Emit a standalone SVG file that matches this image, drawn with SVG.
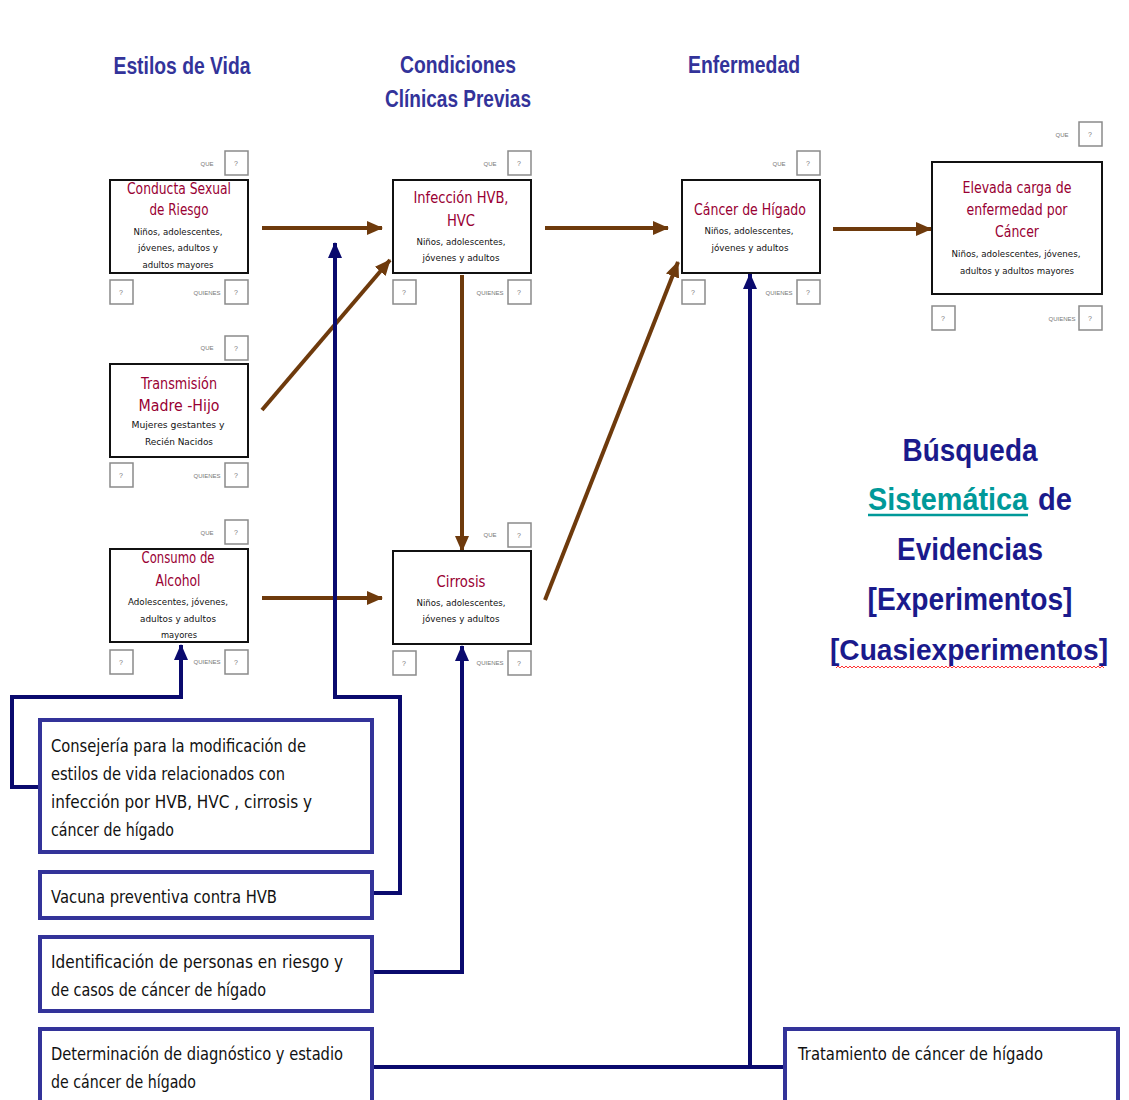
<svg xmlns="http://www.w3.org/2000/svg" width="1129" height="1100" viewBox="0 0 1129 1100">
<defs>
<style>
.hdr{font-family:"Liberation Sans",Arial,sans-serif;font-weight:bold;font-size:24px;fill:#33339a;text-anchor:middle}
.node{fill:#fff;stroke:#111;stroke-width:2}
.ttl{font-family:"DejaVu Sans","Liberation Sans",sans-serif;font-size:15px;fill:#990033;text-anchor:middle}
.sub{font-family:"DejaVu Sans","Liberation Sans",sans-serif;font-size:9.5px;fill:#111;text-anchor:middle}
.sm{fill:#fff;stroke:#8a8a8a;stroke-width:1.5}
.lbl{font-family:"Liberation Sans",Arial,sans-serif;font-size:6px;fill:#777;text-anchor:middle}
.q{font-family:"Liberation Sans",Arial,sans-serif;font-size:7px;fill:#777;text-anchor:middle}
.bbox{fill:#fff;stroke:#333399;stroke-width:4}
.btx{font-family:"DejaVu Sans","Liberation Sans",sans-serif;font-size:17px;fill:#111}
.br{fill:none;stroke:#6e3a0c;stroke-width:4}
.bl{fill:none;stroke:#0a0a6e;stroke-width:4}
.big{font-family:"Liberation Sans",Arial,sans-serif;font-weight:bold;font-size:31px;fill:#1a1a8c;text-anchor:middle}
</style>
<marker id="ab" markerUnits="userSpaceOnUse" markerWidth="16" markerHeight="14" refX="15" refY="7" orient="auto">
<path d="M0,0 L16,7 L0,14 Z" fill="#6e3a0c"/>
</marker>
<marker id="an" markerUnits="userSpaceOnUse" markerWidth="16" markerHeight="14" refX="15" refY="7" orient="auto">
<path d="M0,0 L16,7 L0,14 Z" fill="#0a0a6e"/>
</marker>
<pattern id="wave" patternUnits="userSpaceOnUse" x="836" y="665" width="4" height="4">
<path d="M0,3 L2,1 L4,3" fill="none" stroke="#ff3333" stroke-width="1"/>
</pattern>
</defs>
<rect width="1129" height="1100" fill="#fff"/>

<g id="headers">
<text class="hdr" x="182" y="74" textLength="137" lengthAdjust="spacingAndGlyphs">Estilos de Vida</text>
<text class="hdr" x="458" y="73" textLength="116" lengthAdjust="spacingAndGlyphs">Condiciones</text>
<text class="hdr" x="458" y="107" textLength="146" lengthAdjust="spacingAndGlyphs">Clínicas Previas</text>
<text class="hdr" x="744" y="73" textLength="112" lengthAdjust="spacingAndGlyphs">Enfermedad</text>
</g>

<g id="connectors">
<line class="br" x1="262" y1="228" x2="382" y2="228" marker-end="url(#ab)"/>
<line class="br" x1="262" y1="410" x2="390" y2="260" marker-end="url(#ab)"/>
<line class="br" x1="545" y1="228" x2="668" y2="228" marker-end="url(#ab)"/>
<line class="br" x1="833" y1="229" x2="931" y2="229" marker-end="url(#ab)"/>
<line class="br" x1="462" y1="275" x2="462" y2="551" marker-end="url(#ab)"/>
<line class="br" x1="262" y1="598" x2="382" y2="598" marker-end="url(#ab)"/>
<line class="br" x1="545" y1="600" x2="678" y2="262" marker-end="url(#ab)"/>
<polyline class="bl" points="40,787 12,787 12,697 181,697 181,645" marker-end="url(#an)"/>
<polyline class="bl" points="372,893 400,893 400,697 335,697 335,243" marker-end="url(#an)"/>
<polyline class="bl" points="372,972 462,972 462,646" marker-end="url(#an)"/>
<line class="bl" x1="372" y1="1067" x2="785" y2="1067"/>
<line class="bl" x1="750" y1="1069" x2="750" y2="274" marker-end="url(#an)"/>
</g>

<g id="n-conducta">
<rect class="node" x="110" y="180" width="138" height="93"/>
<rect class="sm" x="225" y="151" width="23" height="24"/><text class="q" x="236" y="166">?</text>
<text class="lbl" x="207" y="166">QUE</text>
<rect class="sm" x="110" y="280" width="23" height="24"/><text class="q" x="121" y="295">?</text>
<rect class="sm" x="225" y="280" width="23" height="24"/><text class="q" x="236" y="295">?</text>
<text class="lbl" x="207" y="295">QUIENES</text>
<text class="ttl" x="179" y="194" textLength="104" lengthAdjust="spacingAndGlyphs">Conducta Sexual</text>
<text class="ttl" x="179" y="215" textLength="59" lengthAdjust="spacingAndGlyphs">de Riesgo</text>
<text class="sub" x="178" y="235" textLength="89" lengthAdjust="spacingAndGlyphs">Niños, adolescentes,</text>
<text class="sub" x="178" y="251" textLength="80" lengthAdjust="spacingAndGlyphs">jóvenes, adultos y</text>
<text class="sub" x="178" y="268" textLength="71" lengthAdjust="spacingAndGlyphs">adultos mayores</text>
</g>

<g id="n-infeccion">
<rect class="node" x="393" y="180" width="138" height="93"/>
<rect class="sm" x="508" y="151" width="23" height="24"/><text class="q" x="519" y="166">?</text>
<text class="lbl" x="490" y="166">QUE</text>
<rect class="sm" x="393" y="280" width="23" height="24"/><text class="q" x="404" y="295">?</text>
<rect class="sm" x="508" y="280" width="23" height="24"/><text class="q" x="519" y="295">?</text>
<text class="lbl" x="490" y="295">QUIENES</text>
<text class="ttl" x="461" y="203" textLength="95" lengthAdjust="spacingAndGlyphs">Infección HVB,</text>
<text class="ttl" x="461" y="226" textLength="28" lengthAdjust="spacingAndGlyphs">HVC</text>
<text class="sub" x="461" y="245" textLength="89" lengthAdjust="spacingAndGlyphs">Niños, adolescentes,</text>
<text class="sub" x="461" y="261" textLength="77" lengthAdjust="spacingAndGlyphs">jóvenes y adultos</text>
</g>

<g id="n-cancer">
<rect class="node" x="682" y="180" width="138" height="93"/>
<rect class="sm" x="797" y="151" width="23" height="24"/><text class="q" x="808" y="166">?</text>
<text class="lbl" x="779" y="166">QUE</text>
<rect class="sm" x="682" y="280" width="23" height="24"/><text class="q" x="693" y="295">?</text>
<rect class="sm" x="797" y="280" width="23" height="24"/><text class="q" x="808" y="295">?</text>
<text class="lbl" x="779" y="295">QUIENES</text>
<text class="ttl" x="750" y="215" textLength="112" lengthAdjust="spacingAndGlyphs">Cáncer de Hígado</text>
<text class="sub" x="749" y="234" textLength="89" lengthAdjust="spacingAndGlyphs">Niños, adolescentes,</text>
<text class="sub" x="750" y="251" textLength="77" lengthAdjust="spacingAndGlyphs">jóvenes y adultos</text>
</g>

<g id="n-elevada">
<rect class="node" x="932" y="162" width="170" height="132"/>
<rect class="sm" x="1079" y="122" width="23" height="24"/><text class="q" x="1090" y="137">?</text>
<text class="lbl" x="1062" y="137">QUE</text>
<rect class="sm" x="932" y="306" width="23" height="24"/><text class="q" x="943" y="321">?</text>
<rect class="sm" x="1079" y="306" width="23" height="24"/><text class="q" x="1090" y="321">?</text>
<text class="lbl" x="1062" y="321">QUIENES</text>
<text class="ttl" x="1017" y="193" textLength="109" lengthAdjust="spacingAndGlyphs">Elevada carga de</text>
<text class="ttl" x="1017" y="215" textLength="101" lengthAdjust="spacingAndGlyphs">enfermedad por</text>
<text class="ttl" x="1017" y="237" textLength="44" lengthAdjust="spacingAndGlyphs">Cáncer</text>
<text class="sub" x="1016" y="257" textLength="129" lengthAdjust="spacingAndGlyphs">Niños, adolescentes, jóvenes,</text>
<text class="sub" x="1017" y="274" textLength="114" lengthAdjust="spacingAndGlyphs">adultos y adultos mayores</text>
</g>

<g id="n-transmision">
<rect class="node" x="110" y="364" width="138" height="93"/>
<rect class="sm" x="225" y="336" width="23" height="24"/><text class="q" x="236" y="351">?</text>
<text class="lbl" x="207" y="350">QUE</text>
<rect class="sm" x="110" y="463" width="23" height="24"/><text class="q" x="121" y="478">?</text>
<rect class="sm" x="225" y="463" width="23" height="24"/><text class="q" x="236" y="478">?</text>
<text class="lbl" x="207" y="478">QUIENES</text>
<text class="ttl" x="179" y="389" textLength="76" lengthAdjust="spacingAndGlyphs">Transmisión</text>
<text class="ttl" x="179" y="411" textLength="81" lengthAdjust="spacingAndGlyphs">Madre -Hijo</text>
<text class="sub" x="178" y="428" textLength="93" lengthAdjust="spacingAndGlyphs">Mujeres gestantes y</text>
<text class="sub" x="179" y="445" textLength="68" lengthAdjust="spacingAndGlyphs">Recién Nacidos</text>
</g>

<g id="n-alcohol">
<rect class="node" x="110" y="549" width="138" height="93"/>
<rect class="sm" x="225" y="520" width="23" height="24"/><text class="q" x="236" y="535">?</text>
<text class="lbl" x="207" y="535">QUE</text>
<rect class="sm" x="110" y="650" width="23" height="24"/><text class="q" x="121" y="665">?</text>
<rect class="sm" x="225" y="650" width="23" height="24"/><text class="q" x="236" y="665">?</text>
<text class="lbl" x="207" y="664">QUIENES</text>
<text class="ttl" x="178" y="563" textLength="73" lengthAdjust="spacingAndGlyphs">Consumo de</text>
<text class="ttl" x="178" y="586" textLength="45" lengthAdjust="spacingAndGlyphs">Alcohol</text>
<text class="sub" x="178" y="605" textLength="100" lengthAdjust="spacingAndGlyphs">Adolescentes, jóvenes,</text>
<text class="sub" x="178" y="622" textLength="76" lengthAdjust="spacingAndGlyphs">adultos y adultos</text>
<text class="sub" x="179" y="638" textLength="36" lengthAdjust="spacingAndGlyphs">mayores</text>
</g>

<g id="n-cirrosis">
<rect class="node" x="393" y="551" width="138" height="93"/>
<rect class="sm" x="508" y="523" width="23" height="24"/><text class="q" x="519" y="538">?</text>
<text class="lbl" x="490" y="537">QUE</text>
<rect class="sm" x="393" y="651" width="23" height="24"/><text class="q" x="404" y="666">?</text>
<rect class="sm" x="508" y="651" width="23" height="24"/><text class="q" x="519" y="666">?</text>
<text class="lbl" x="490" y="665">QUIENES</text>
<text class="ttl" x="461" y="587" textLength="49" lengthAdjust="spacingAndGlyphs">Cirrosis</text>
<text class="sub" x="461" y="606" textLength="89" lengthAdjust="spacingAndGlyphs">Niños, adolescentes,</text>
<text class="sub" x="461" y="622" textLength="77" lengthAdjust="spacingAndGlyphs">jóvenes y adultos</text>
</g>

<g id="b-consejeria">
<rect class="bbox" x="40" y="720" width="332" height="132"/>
<text class="btx" x="51" y="752" textLength="255" lengthAdjust="spacingAndGlyphs">Consejería para la modificación  de</text>
<text class="btx" x="51" y="780" textLength="234" lengthAdjust="spacingAndGlyphs">estilos de vida relacionados  con</text>
<text class="btx" x="51" y="808" textLength="261" lengthAdjust="spacingAndGlyphs">infección por HVB, HVC , cirrosis y</text>
<text class="btx" x="51" y="836" textLength="123" lengthAdjust="spacingAndGlyphs">cáncer de hígado</text>
</g>
<g id="b-vacuna">
<rect class="bbox" x="40" y="872" width="332" height="46"/>
<text class="btx" x="51" y="903" textLength="226" lengthAdjust="spacingAndGlyphs">Vacuna preventiva contra HVB</text>
</g>
<g id="b-identificacion">
<rect class="bbox" x="40" y="937" width="332" height="74"/>
<text class="btx" x="51" y="968" textLength="292" lengthAdjust="spacingAndGlyphs">Identificación de  personas en riesgo y</text>
<text class="btx" x="51" y="996" textLength="215" lengthAdjust="spacingAndGlyphs">de casos de cáncer de hígado</text>
</g>
<g id="b-determinacion">
<rect class="bbox" x="40" y="1029" width="332" height="90"/>
<text class="btx" x="51" y="1060" textLength="292" lengthAdjust="spacingAndGlyphs">Determinación de diagnóstico  y estadio</text>
<text class="btx" x="51" y="1088" textLength="145" lengthAdjust="spacingAndGlyphs">de cáncer de hígado</text>
</g>
<g id="b-tratamiento">
<rect class="bbox" x="785" y="1029" width="333" height="90"/>
<text class="btx" x="798" y="1060" textLength="245" lengthAdjust="spacingAndGlyphs">Tratamiento de cáncer de hígado</text>
</g>

<g id="busqueda">
<text class="big" x="970" y="461" textLength="135" lengthAdjust="spacingAndGlyphs">Búsqueda</text>
<text class="big" x="948" y="510" textLength="160" lengthAdjust="spacingAndGlyphs" style="fill:#009999">Sistemática</text>
<text class="big" x="1055" y="510" textLength="34" lengthAdjust="spacingAndGlyphs">de</text>
<line x1="868" y1="515" x2="1028" y2="515" stroke="#009999" stroke-width="2.5"/>
<text class="big" x="970" y="560" textLength="146" lengthAdjust="spacingAndGlyphs">Evidencias</text>
<text class="big" x="970" y="610" textLength="205" lengthAdjust="spacingAndGlyphs">[Experimentos]</text>
<text class="big" x="969" y="660" textLength="278" lengthAdjust="spacingAndGlyphs" style="font-size:29px">[Cuasiexperimentos]</text>
<rect x="836" y="665" width="268" height="4" fill="url(#wave)"/>
</g>
</svg>
